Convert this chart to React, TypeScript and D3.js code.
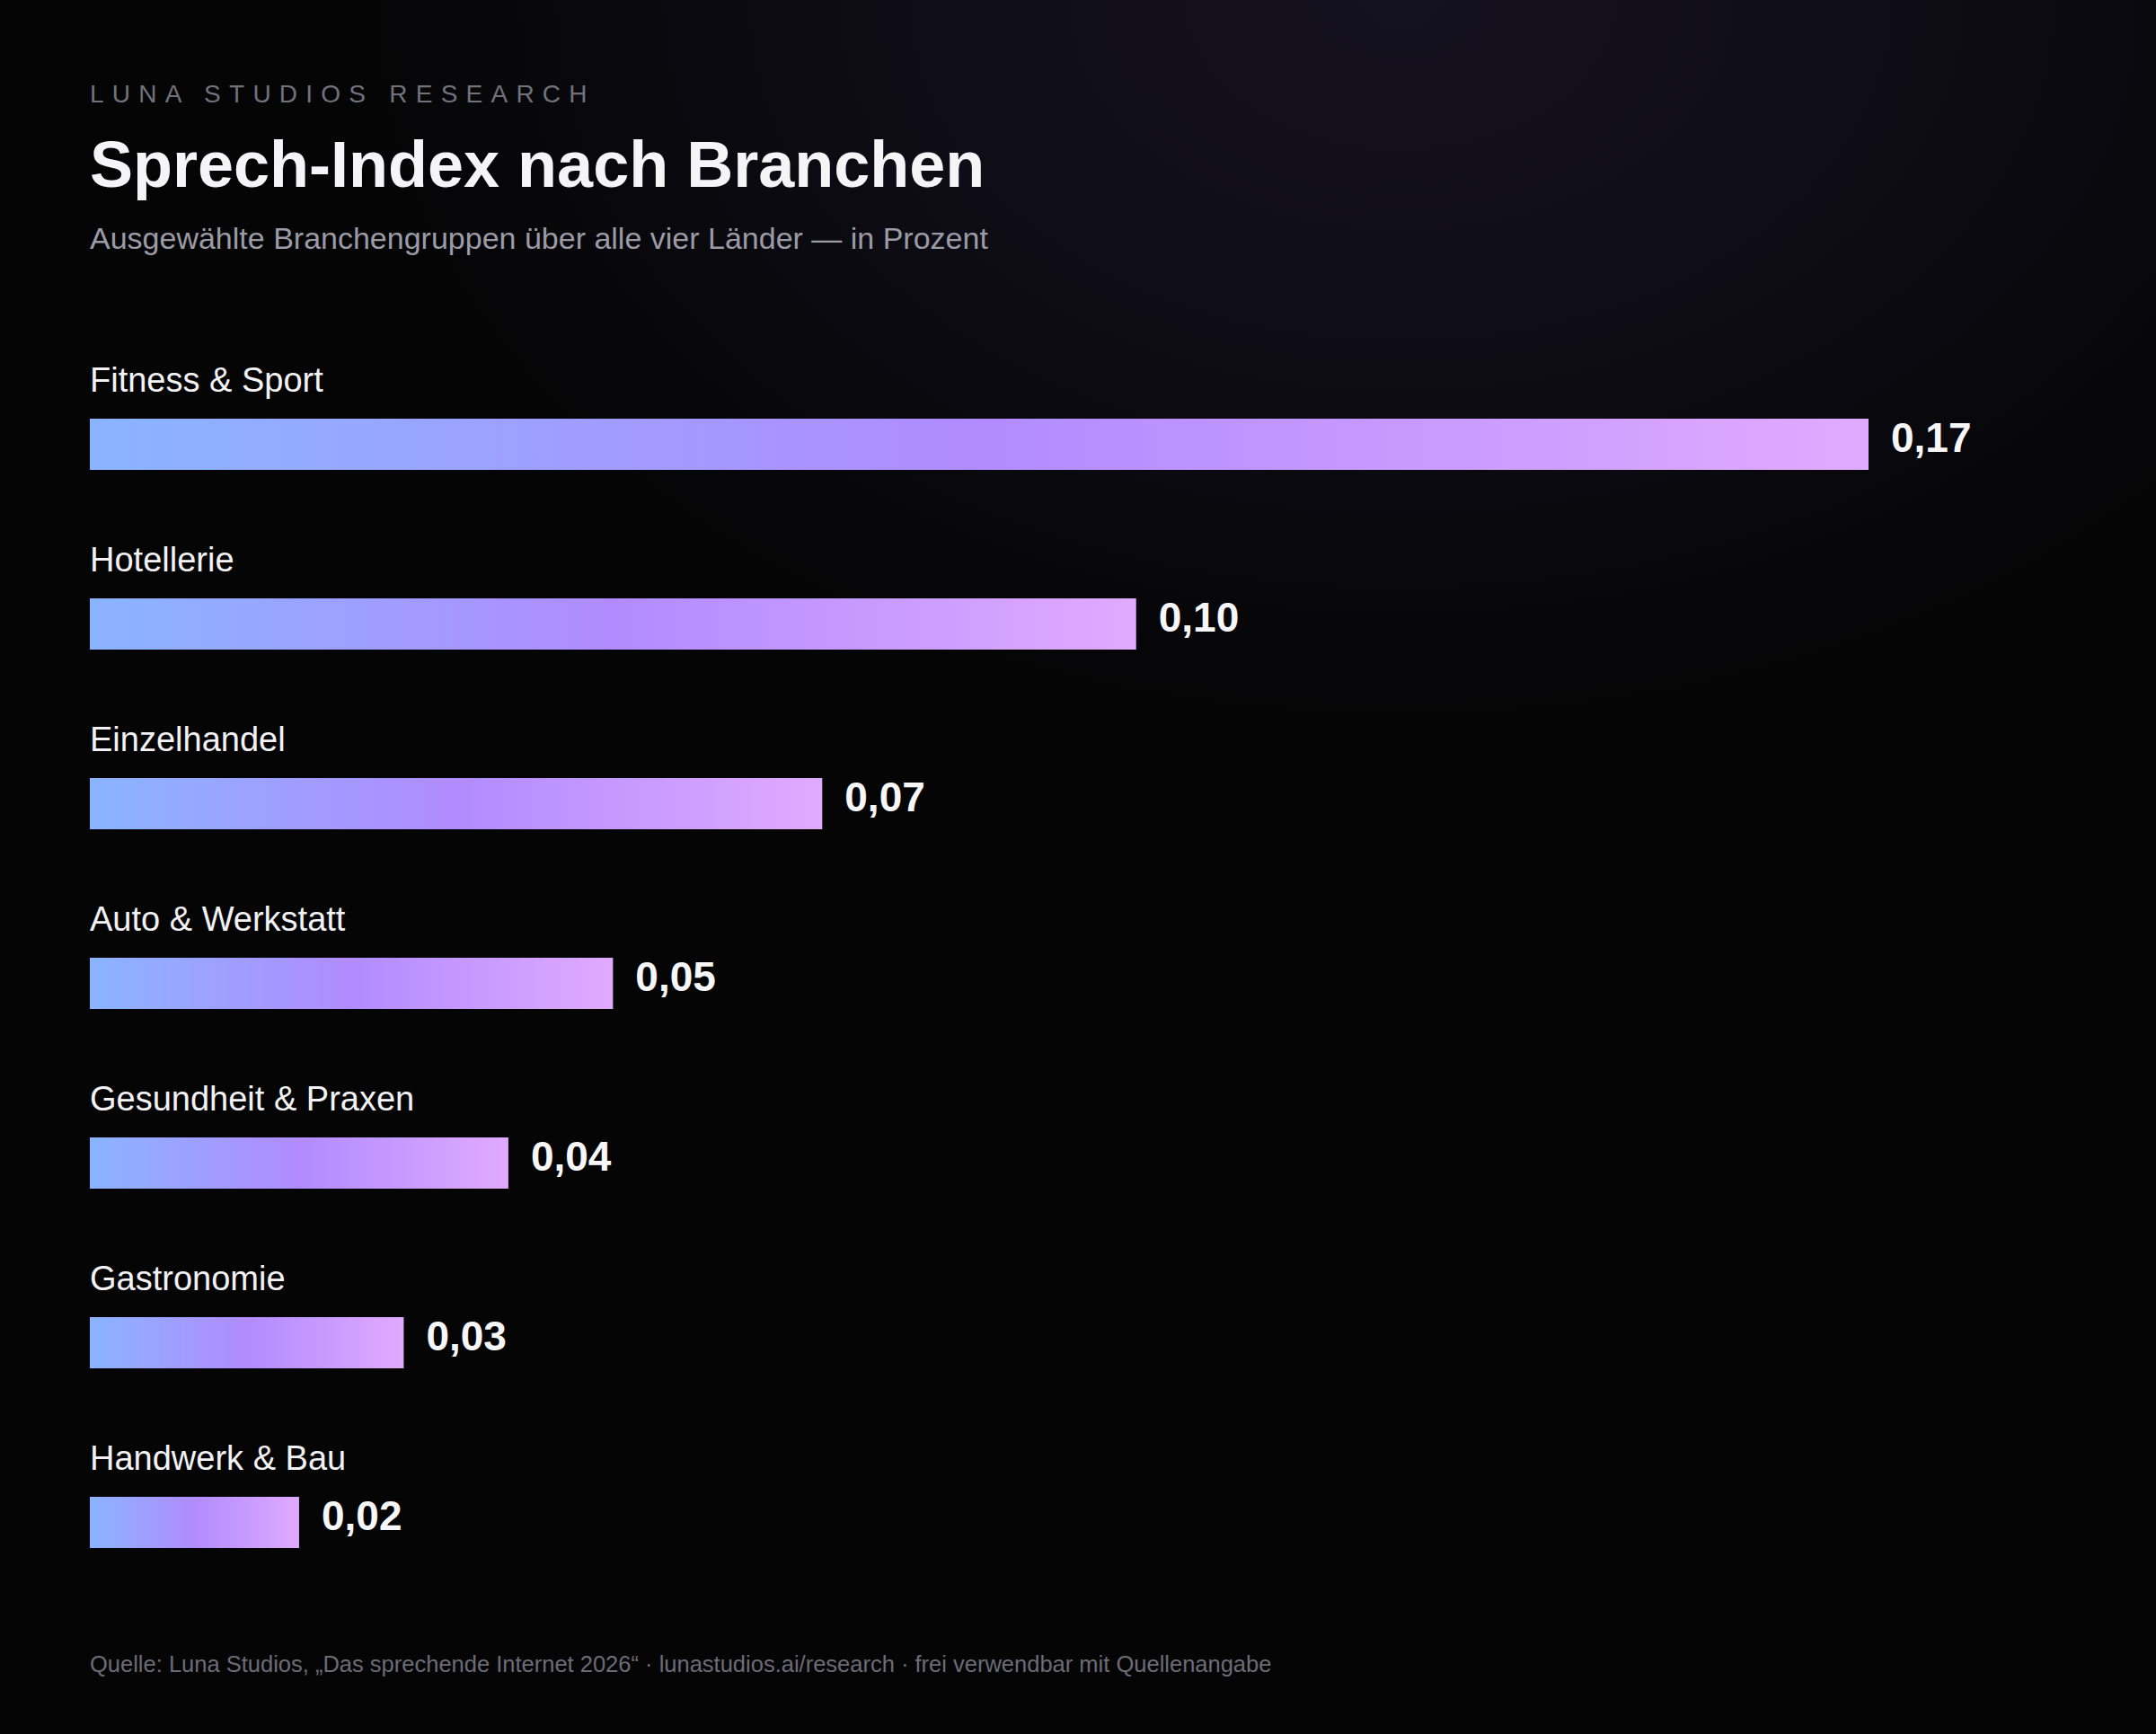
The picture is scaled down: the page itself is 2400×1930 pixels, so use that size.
import React from "react";
import * as d3 from "d3";

const categories: string[] = [
  "Fitness & Sport",
  "Hotellerie",
  "Einzelhandel",
  "Auto & Werkstatt",
  "Gesundheit & Praxen",
  "Gastronomie",
  "Handwerk & Bau",
];
const values: number[] = [0.17, 0.1, 0.07, 0.05, 0.04, 0.03, 0.02];

const eyebrow = "LUNA STUDIOS RESEARCH";
const title = "Sprech-Index nach Branchen";
const subtitle = "Ausgewählte Branchengruppen über alle vier Länder — in Prozent";
const footer =
  "Quelle: Luna Studios, „Das sprechende Internet 2026“ · lunastudios.ai/research · frei verwendbar mit Quellenangabe";

const W = 2400;
const H = 1930;
const FONT = "'Liberation Sans', Arial, Helvetica, sans-serif";

const de = d3.formatLocale({
  decimal: ",",
  thousands: ".",
  grouping: [3],
  currency: ["", " €"],
});
const fmt = de.format(".2f");

export default function App() {
  React.useEffect(() => {
    document.body.style.margin = "0";
    document.body.style.background = "#050506";
  }, []);

  const x = d3.scaleLinear().domain([0, 0.17]).range([100, 2080]);
  const y = d3.scaleBand<string>().domain(categories).range([366, 1766]);
  const barH = 57;

  return (
    <svg
      width={W}
      height={H}
      viewBox={`0 0 ${W} ${H}`}
      style={{ display: "block", position: "absolute", left: 0, top: 0 }}
    >
      <defs>
        <radialGradient
          id="glow"
          gradientUnits="userSpaceOnUse"
          cx={0}
          cy={0}
          r={1}
          gradientTransform="translate(1560,0) scale(1150,800)"
        >
          <stop offset="0" stopColor="#15121f" />
          <stop offset="0.45" stopColor="#0f0d17" />
          <stop offset="1" stopColor="#050506" />
        </radialGradient>
        <linearGradient id="barGrad" x1="0" y1="0" x2="1" y2="0">
          <stop offset="0" stopColor="#8ab4ff" />
          <stop offset="0.5" stopColor="#b18bff" />
          <stop offset="1" stopColor="#e0aaff" />
        </linearGradient>
      </defs>
      <rect x={0} y={0} width={W} height={H} fill="#050506" />
      <rect x={0} y={0} width={W} height={H} fill="url(#glow)" />

      <text
        x={100}
        y={114}
        fontFamily={FONT}
        fontSize={28}
        letterSpacing="0.33em"
        fill="#72727d"
      >
        {eyebrow}
      </text>
      <text
        x={100}
        y={208}
        fontFamily={FONT}
        fontSize={72}
        fontWeight="bold"
        fill="#f5f5f7"
      >
        {title}
      </text>
      <text x={100} y={277} fontFamily={FONT} fontSize={34} fill="#9b9ba6">
        {subtitle}
      </text>

      {categories.map((c, i) => {
        const top = (y(c) as number) + 100;
        return (
          <g key={c}>
            <text
              x={100}
              y={top - 30}
              fontFamily={FONT}
              fontSize={38}
              fill="#f2f2f4"
            >
              {c}
            </text>
            <rect
              x={x(0)}
              y={top}
              width={x(values[i]) - x(0)}
              height={barH}
              fill="url(#barGrad)"
            />
            <text
              x={x(values[i]) + 25}
              y={top + 37}
              fontFamily={FONT}
              fontSize={46}
              fontWeight="bold"
              fill="#f7f7f9"
            >
              {fmt(values[i])}
            </text>
          </g>
        );
      })}

      <text x={100} y={1861} fontFamily={FONT} fontSize={25.5} fill="#6c6c76">
        {footer}
      </text>
    </svg>
  );
}
